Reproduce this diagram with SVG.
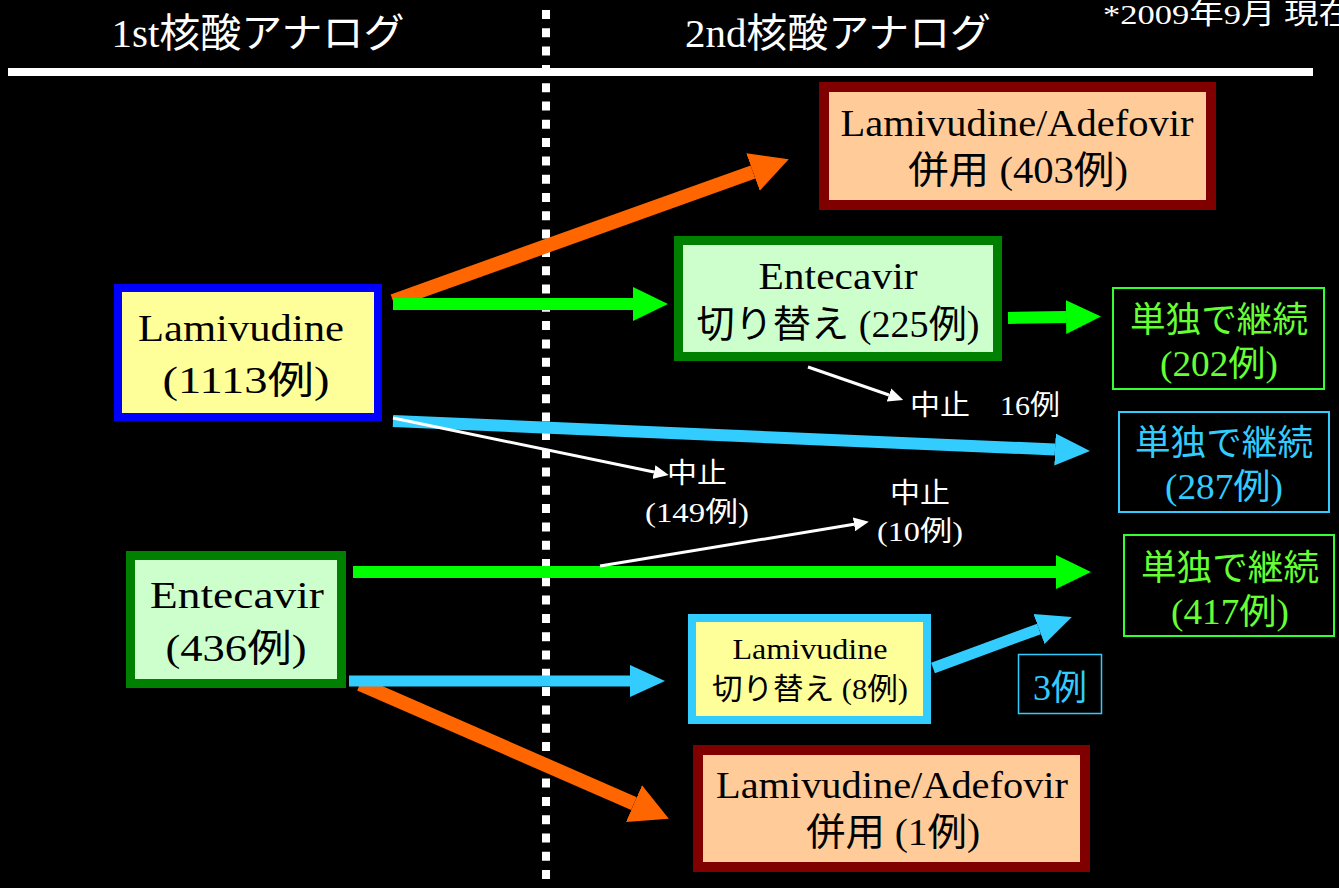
<svg xmlns="http://www.w3.org/2000/svg" width="1339" height="888" viewBox="0 0 1339 888">
<style>
.t{font-family:"Liberation Serif","Noto Sans CJK JP",serif;text-anchor:middle;}
.blk{fill:#000;}
.wht{fill:#fff;}
.grn{fill:#66FF33;}
.cyn{fill:#33CCFF;}
.s38{font-size:38px;}
.s35{font-size:35px;}
.s30{font-size:30px;}
.s28{font-size:28px;}
</style>
<defs>
<marker id="hOr" markerUnits="userSpaceOnUse" markerWidth="40" markerHeight="40" refX="0" refY="20" orient="auto"><path d="M0,0 L38,20 L0,40 z" fill="#FF6600"/></marker>
<marker id="hGr" markerUnits="userSpaceOnUse" markerWidth="36" markerHeight="36" refX="0" refY="18" orient="auto"><path d="M0,1 L35,18 L0,35 z" fill="#00FF00"/></marker>
<marker id="hCy" markerUnits="userSpaceOnUse" markerWidth="36" markerHeight="36" refX="0" refY="18" orient="auto"><path d="M0,2 L35,18 L0,34 z" fill="#33CCFF"/></marker>
<marker id="hWh" markerUnits="userSpaceOnUse" markerWidth="16" markerHeight="14" refX="0" refY="7" orient="auto"><path d="M0,0 L15,7 L0,14 z" fill="#fff"/></marker>
</defs>
<rect width="1339" height="888" fill="#000"/>

<g id="header">
<text class="t wht" x="258" y="47" font-size="40" textLength="293" lengthAdjust="spacingAndGlyphs">1st核酸アナログ</text>
<text class="t wht" x="838" y="47" font-size="40" textLength="306" lengthAdjust="spacingAndGlyphs">2nd核酸アナログ</text>
<text class="wht" x="1103" y="24" font-size="28" font-family="Liberation Serif,Noto Sans CJK JP,serif" textLength="250" lengthAdjust="spacingAndGlyphs">*2009年9月 現在</text>
<rect x="8" y="68" width="1305" height="8" fill="#fff"/>
<line x1="546" y1="10" x2="546" y2="888" stroke="#fff" stroke-width="8" stroke-dasharray="9 9.3"/>
</g>

<g id="connectors" fill="none">
<line x1="393" y1="301" x2="753" y2="172" stroke="#FF6600" stroke-width="14" marker-end="url(#hOr)"/>
<line x1="393" y1="304" x2="633" y2="304" stroke="#00FF00" stroke-width="12" marker-end="url(#hGr)"/>
<line x1="1008" y1="318" x2="1066" y2="317" stroke="#00FF00" stroke-width="12" marker-end="url(#hGr)"/>
<line x1="393" y1="421" x2="1055" y2="449.5" stroke="#33CCFF" stroke-width="12" marker-end="url(#hCy)"/>
<line x1="353" y1="572" x2="1056" y2="572" stroke="#00FF00" stroke-width="12" marker-end="url(#hGr)"/>
<line x1="360" y1="684" x2="634" y2="803.6" stroke="#FF6600" stroke-width="14" marker-end="url(#hOr)"/>
<line x1="349" y1="681" x2="630" y2="681" stroke="#33CCFF" stroke-width="11" marker-end="url(#hCy)"/>
<line x1="933" y1="668" x2="1039" y2="629" stroke="#33CCFF" stroke-width="11" marker-end="url(#hCy)"/>
<line x1="393" y1="418" x2="654" y2="472" stroke="#fff" stroke-width="3" marker-end="url(#hWh)"/>
<line x1="808" y1="367" x2="889" y2="395" stroke="#fff" stroke-width="3" marker-end="url(#hWh)"/>
<line x1="600" y1="566" x2="854" y2="524.3" stroke="#fff" stroke-width="3" marker-end="url(#hWh)"/>
</g>

<g id="n-lam-adv-403">
<rect x="824" y="87" width="387" height="118" fill="#FFCC99" stroke="#800000" stroke-width="10"/>
<text class="t blk s38" x="1017" y="136" textLength="353" lengthAdjust="spacingAndGlyphs">Lamivudine/Adefovir</text>
<text class="t blk s38" x="1018" y="183" textLength="220" lengthAdjust="spacingAndGlyphs">併用 (403例)</text>
</g>

<g id="n-ent-225">
<rect x="678.5" y="240.5" width="319" height="116" fill="#CCFFCC" stroke="#008000" stroke-width="9"/>
<text class="t blk s38" x="838" y="289" textLength="159" lengthAdjust="spacingAndGlyphs">Entecavir</text>
<text class="t blk s38" x="838" y="337" textLength="283" lengthAdjust="spacingAndGlyphs">切り替え (225例)</text>
</g>

<g id="n-lam-1113">
<rect x="118" y="288" width="260" height="129" fill="#FFFF99" stroke="#0000FF" stroke-width="8"/>
<text class="t blk s38" x="241" y="341" textLength="206" lengthAdjust="spacingAndGlyphs">Lamivudine</text>
<text class="t blk s38" x="246" y="393" textLength="167" lengthAdjust="spacingAndGlyphs">(1113例)</text>
</g>

<g id="n-cont-202">
<rect x="1113" y="288" width="211" height="101" fill="none" stroke="#33FF33" stroke-width="2"/>
<text class="t grn s35" x="1219" y="332" textLength="178" lengthAdjust="spacingAndGlyphs">単独で継続</text>
<text class="t grn s35" x="1219" y="376" textLength="118" lengthAdjust="spacingAndGlyphs">(202例)</text>
</g>

<g id="n-cont-287">
<rect x="1119" y="412" width="210" height="100" fill="none" stroke="#33CCFF" stroke-width="2"/>
<text class="t cyn s35" x="1224" y="455" textLength="178" lengthAdjust="spacingAndGlyphs">単独で継続</text>
<text class="t cyn s35" x="1224" y="499" textLength="118" lengthAdjust="spacingAndGlyphs">(287例)</text>
</g>

<g id="n-cont-417">
<rect x="1124" y="535" width="210" height="101" fill="none" stroke="#33FF33" stroke-width="2"/>
<text class="t grn s35" x="1230" y="580" textLength="178" lengthAdjust="spacingAndGlyphs">単独で継続</text>
<text class="t grn s35" x="1230" y="624" textLength="118" lengthAdjust="spacingAndGlyphs">(417例)</text>
</g>

<g id="n-ent-436">
<rect x="130.5" y="555.5" width="211" height="128" fill="#CCFFCC" stroke="#008000" stroke-width="9"/>
<text class="t blk s38" x="237" y="608" textLength="174" lengthAdjust="spacingAndGlyphs">Entecavir</text>
<text class="t blk s38" x="236" y="661" textLength="141" lengthAdjust="spacingAndGlyphs">(436例)</text>
</g>

<g id="n-lam-8">
<rect x="692" y="618" width="235" height="102" fill="#FFFF99" stroke="#33CCFF" stroke-width="8"/>
<text class="t blk s30" x="810" y="659" textLength="155" lengthAdjust="spacingAndGlyphs">Lamivudine</text>
<text class="t blk s30" x="810" y="699" textLength="196" lengthAdjust="spacingAndGlyphs">切り替え (8例)</text>
</g>

<g id="n-3">
<rect x="1018.5" y="654.5" width="83" height="59" fill="none" stroke="#33CCFF" stroke-width="1.5"/>
<text class="t cyn s35" x="1060" y="700" textLength="54" lengthAdjust="spacingAndGlyphs">3例</text>
</g>

<g id="n-lam-adv-1">
<rect x="698" y="750" width="387" height="117" fill="#FFCC99" stroke="#800000" stroke-width="10"/>
<text class="t blk s38" x="892" y="798" textLength="352" lengthAdjust="spacingAndGlyphs">Lamivudine/Adefovir</text>
<text class="t blk s38" x="893" y="845" textLength="174" lengthAdjust="spacingAndGlyphs">併用 (1例)</text>
</g>

<g id="labels">
<text class="wht s28" x="910" y="415" font-family="Liberation Serif,Noto Sans CJK JP,serif" textLength="150" lengthAdjust="spacingAndGlyphs">中止　16例</text>
<text class="t wht s28" x="697" y="483" textLength="60" lengthAdjust="spacingAndGlyphs">中止</text>
<text class="t wht s28" x="697" y="522" textLength="104" lengthAdjust="spacingAndGlyphs">(149例)</text>
<text class="t wht s28" x="920" y="503" textLength="60" lengthAdjust="spacingAndGlyphs">中止</text>
<text class="t wht s28" x="920" y="541" textLength="86" lengthAdjust="spacingAndGlyphs">(10例)</text>
</g>
</svg>
